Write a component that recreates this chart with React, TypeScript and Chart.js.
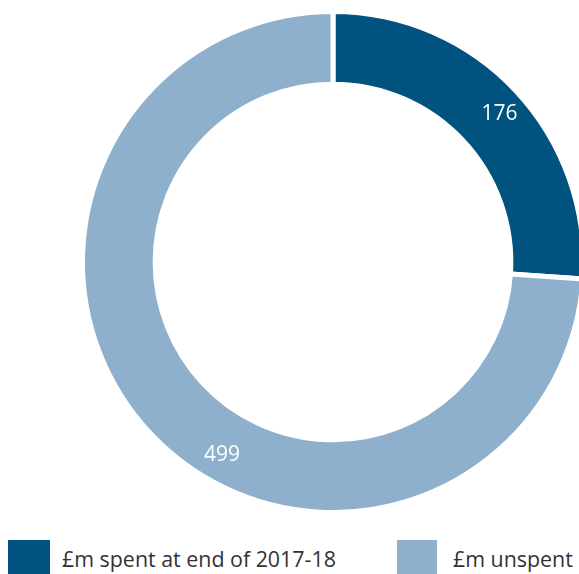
import React, { useEffect, useRef } from "react";
import { Chart, registerables } from "chart.js";

Chart.register(...registerables);

const categories = ["£m spent at end of 2017-18", "£m unspent"];
const values = [176, 499];
const colors = ["#00527F", "#8EB0CC"];
const labelAngleFrac = [0.515, 0.436];

const FONT = "'Open Sans', 'Noto Sans', sans-serif";

const labelPlugin = {
  id: "sliceLabels",
  afterDatasetsDraw(chart: any) {
    const ctx = chart.ctx;
    const meta = chart.getDatasetMeta(0);
    ctx.save();
    ctx.font = `21px ${FONT}`;
    ctx.fillStyle = "#ffffff";
    ctx.textAlign = "center";
    ctx.textBaseline = "middle";
    meta.data.forEach((arc: any, i: number) => {
      const p = arc.getProps(["x", "y", "startAngle", "endAngle", "innerRadius", "outerRadius"], true);
      const a = p.startAngle + (p.endAngle - p.startAngle) * labelAngleFrac[i];
      const r = p.innerRadius + (p.outerRadius - p.innerRadius) * 0.62;
      ctx.fillText(String(values[i]), p.x + Math.cos(a) * r, p.y + Math.sin(a) * r);
    });
    ctx.restore();
  },
};

export default function App() {
  const ref = useRef<HTMLCanvasElement>(null);
  useEffect(() => {
    if (!ref.current) return;
    const chart = new Chart(ref.current, {
      type: "doughnut",
      data: {
        labels: categories,
        datasets: [
          {
            data: values,
            backgroundColor: colors,
            borderColor: "#ffffff",
            borderWidth: 5,
          },
        ],
      },
      options: {
        animation: false,
        responsive: false,
        maintainAspectRatio: false,
        cutout: "71%",
        layout: { padding: 9 },
        plugins: {
          legend: { display: false },
          tooltip: { enabled: false },
        },
      },
      plugins: [labelPlugin],
    });
    return () => chart.destroy();
  }, []);

  return (
    <div
      style={{
        position: "fixed",
        left: 0,
        top: 0,
        width: 579,
        height: 574,
        overflow: "hidden",
        background: "#fff",
        fontFamily: FONT,
      }}
    >
      <canvas
        ref={ref}
        width={666}
        height={524}
        style={{ position: "absolute", left: 0, top: 0, width: 666, height: 524 }}
      />
      {categories.map((c, i) => (
        <div
          key={c}
          style={{
            position: "absolute",
            left: i === 0 ? 8 : 397,
            top: 540,
            display: "flex",
            alignItems: "flex-start",
            whiteSpace: "nowrap",
          }}
        >
          <div style={{ width: i === 0 ? 42 : 40, height: 40, background: colors[i] }} />
          <span
            style={{
              marginLeft: i === 0 ? 12 : 16,
              fontSize: 21.4,
              lineHeight: "38px",
              color: "#333",
            }}
          >
            {c}
          </span>
        </div>
      ))}
    </div>
  );
}
